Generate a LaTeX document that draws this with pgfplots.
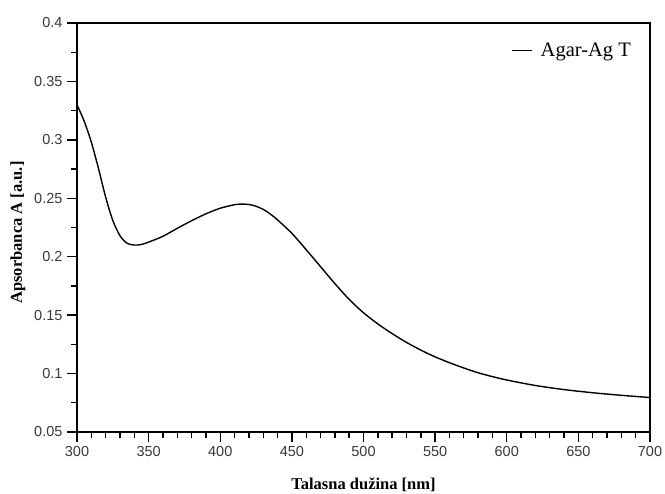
\documentclass[border=0pt]{standalone}
\usepackage{fontspec}
\setmainfont{Liberation Serif}
\newfontfamily\tickfont{Liberation Sans}
\usepackage{pgfplots}
\pgfplotsset{compat=1.18}
\begin{document}
\begin{tikzpicture}
\begin{axis}[
  name=ax,
  scale only axis,
  width=573pt, height=409pt,
  xmin=300, xmax=700, ymin=0.05, ymax=0.4,
  xtick distance=50, ytick distance=0.05,
  minor x tick num=4, minor y tick num=1,
  tick pos=left, tick align=outside,
  major tick length=10pt, minor tick length=6pt,
  axis line style={line width=1.6pt},
  every tick/.style={line width=1.4pt, black},
  /pgf/number format/.cd, fixed, precision=2, assume math mode=true,
  /pgfplots/.cd,
  tick label style={font=\tickfont\fontsize{14.5}{17}\selectfont, color=black!78},
  xticklabel style={yshift=-1pt},
  yticklabel style={xshift=-1pt},
  xlabel={\textbf{Talasna dužina [nm]}},
  ylabel={\textbf{Apsorbanca A [a.u.]}},
  xlabel style={font=\fontsize{16.5}{19}\selectfont, at={(axis description cs:0.5,0)}, anchor=center, yshift=-53pt},
  ylabel style={font=\fontsize{16.5}{19}\selectfont, at={(axis description cs:0,0.5)}, anchor=center, yshift=59pt, xshift=-5pt},
  legend style={draw=none, fill=none, at={(axis description cs:1,1)}, anchor=north east,
    xshift=-14pt, yshift=-16pt, font=\fontsize{20.5}{24}\selectfont},
  legend cell align=left,
  legend image code/.code={\draw[#1] (0pt,0pt) -- (20pt,0pt); \path (26pt,0pt);},
]
\addplot[black, line width=1.4pt, smooth, tension=0.5] coordinates {
(300,0.330) (305,0.316) (310,0.298) (315,0.2755) (320,0.251) (325,0.231)
(330,0.218) (335,0.2115) (340,0.210) (345,0.2105) (350,0.2125) (360,0.2175)
(370,0.2243) (380,0.2308) (390,0.2367) (400,0.2415) (410,0.2445) (415,0.245)
(420,0.2447) (425,0.2432) (430,0.2405) (435,0.2365) (440,0.2315) (450,0.2200)
(460,0.2060) (470,0.1915) (480,0.1770) (490,0.1635) (500,0.1520) (510,0.1425)
(520,0.1342) (530,0.1267) (540,0.1201) (550,0.1143) (560,0.1093) (570,0.1048)
(580,0.1007) (590,0.0974) (600,0.0945) (620,0.0898) (640,0.0863) (660,0.0836)
(680,0.0814) (700,0.0795)
};
\addlegendentry{Agar-Ag T}
\end{axis}
\pgfresetboundingbox
\path ([shift={(-77pt,-61pt)}]ax.south west) rectangle ([shift={(15pt,23pt)}]ax.north east);
\end{tikzpicture}
\end{document}
